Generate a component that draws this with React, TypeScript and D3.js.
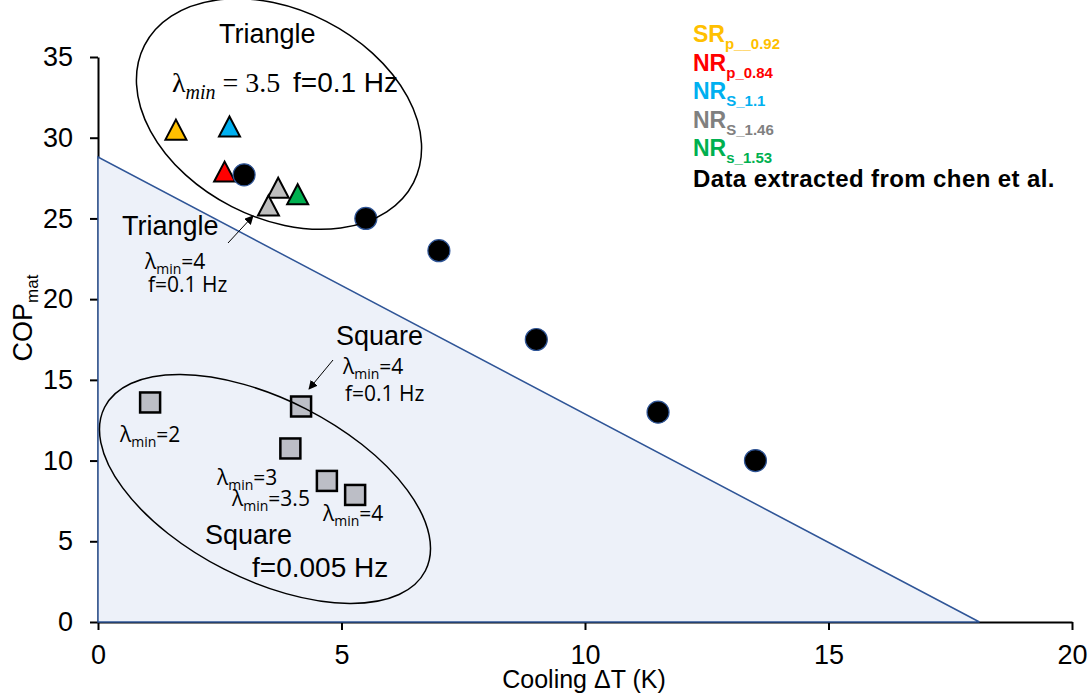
import React, { useEffect, useRef } from "react";
import * as d3 from "d3";

// chen et al. (black dots)
const chenX = [3, 5.5, 7, 9, 11.5, 13.5];
const chenY = [27.7, 25, 23, 17.5, 13, 10];

// triangle waveform, lambda_min = 3.5, f = 0.1 Hz
const triNames = ["SR p__0.92", "NR p_0.84", "NR S_1.1", "NR S_1.46", "NR S_1.46b", "NR s_1.53"];
const triX = [1.6, 2.6, 2.7, 3.7, 3.5, 4.1];
const triY = [30.5, 27.9, 30.7, 26.9, 25.8, 26.5];
const triColors = ["#FFC000", "#FF0000", "#00B0F0", "#BFBFBF", "#BFBFBF", "#00B050"];

// square waveform
const sqX = [1.07, 4.17, 3.95, 4.7, 5.28];
const sqY = [13.6, 13.35, 10.75, 8.74, 7.87];

// shaded limit
const limitX = [0, 0, 18.1];
const limitY = [0, 28.8, 0];

const xTicks = [0, 5, 10, 15, 20];
const yTicks = [0, 5, 10, 15, 20, 25, 30, 35];

const legendMain = ["SR", "NR", "NR", "NR", "NR"];
const legendSub = ["p__0.92", "p_0.84", "S_1.1", "S_1.46", "s_1.53"];
const legendColors = ["#FFC000", "#FF0000", "#00B0F0", "#808080", "#00B050"];

const App = () => {
  const svgRef = useRef<SVGSVGElement>(null);

  useEffect(() => {
    const svg = d3.select(svgRef.current);
    svg.selectAll("*").remove();

    const font = "'Liberation Sans', Arial, sans-serif";
    const small = "'Open Sans', sans-serif";

    const x = d3.scaleLinear().domain([0, 20]).range([98, 1072]);
    const y = d3.scaleLinear().domain([0, 35]).range([622, 57]);

    svg
      .append("defs")
      .append("marker")
      .attr("id", "arrow")
      .attr("viewBox", "0 0 10 10")
      .attr("refX", 9)
      .attr("refY", 5)
      .attr("markerWidth", 9)
      .attr("markerHeight", 9)
      .attr("markerUnits", "userSpaceOnUse")
      .attr("orient", "auto")
      .append("path")
      .attr("d", "M0,0 L10,5 L0,10 z")
      .attr("fill", "#000");

    // axes
    const yAxis = svg
      .append("g")
      .attr("transform", `translate(${x(0)},0)`)
      .call(d3.axisLeft(y).tickValues(yTicks).tickSize(8).tickSizeOuter(0).tickPadding(17));
    const xAxis = svg
      .append("g")
      .attr("transform", `translate(0,${y(0)})`)
      .call(d3.axisBottom(x).tickValues(xTicks).tickSize(8).tickSizeOuter(0).tickPadding(15));
    [xAxis, yAxis].forEach((g) => {
      g.selectAll("path, line").attr("stroke", "#000").attr("stroke-width", 2);
      g.selectAll("text").style("font-family", font).style("font-size", "27px").attr("fill", "#000");
    });

    // shaded region
    svg
      .append("path")
      .datum(limitX.map((v, i) => [v, limitY[i]] as [number, number]))
      .attr("d", d3.line<[number, number]>().x((d) => x(d[0])).y((d) => y(d[1])).curve(d3.curveLinearClosed))
      .attr("fill", "#edf1f9")
      .attr("stroke", "#2f5597")
      .attr("stroke-width", 1.5);

    // axis titles
    svg
      .append("text")
      .attr("x", 584)
      .attr("y", 688)
      .attr("text-anchor", "middle")
      .style("font-family", font)
      .style("font-size", "25px")
      .text("Cooling ΔT (K)");

    const yt = svg
      .append("text")
      .attr("transform", "translate(32,318) rotate(-90)")
      .attr("text-anchor", "middle")
      .style("font-family", font)
      .style("font-size", "27px");
    yt.append("tspan").text("COP");
    yt.append("tspan").attr("dy", 6).style("font-size", "17px").text("mat");

    // squares
    const sq = 20;
    svg
      .append("g")
      .selectAll("rect")
      .data(sqX.map((v, i) => ({ x: v, y: sqY[i] })))
      .join("rect")
      .attr("x", (d) => x(d.x) - sq / 2)
      .attr("y", (d) => y(d.y) - sq / 2)
      .attr("width", sq)
      .attr("height", sq)
      .attr("fill", "#bcbec6")
      .attr("stroke", "#000")
      .attr("stroke-width", 2.5);

    // triangles
    const tw = 21;
    const th = 20;
    svg
      .append("g")
      .selectAll("path")
      .data(triX.map((v, i) => ({ x: v, y: triY[i], c: triColors[i], n: triNames[i] })))
      .join("path")
      .attr("d", (d) => {
        const cx = x(d.x);
        const cy = y(d.y);
        return `M${cx},${cy - th / 2} L${cx + tw / 2},${cy + th / 2} L${cx - tw / 2},${cy + th / 2} Z`;
      })
      .attr("fill", (d) => d.c)
      .attr("stroke", "#000")
      .attr("stroke-width", 2)
      .attr("stroke-linejoin", "miter");

    // chen et al. points
    svg
      .append("g")
      .selectAll("circle")
      .data(chenX.map((v, i) => ({ x: v, y: chenY[i] })))
      .join("circle")
      .attr("cx", (d) => x(d.x))
      .attr("cy", (d) => y(d.y))
      .attr("r", 11)
      .attr("fill", "#000")
      .attr("stroke", "#2f5597")
      .attr("stroke-width", 1.2);

    // ellipses
    svg
      .append("ellipse")
      .attr("transform", "translate(279,114) rotate(27)")
      .attr("rx", 151)
      .attr("ry", 104)
      .attr("fill", "none")
      .attr("stroke", "#000")
      .attr("stroke-width", 1.5);
    svg
      .append("ellipse")
      .attr("transform", "translate(265,489) rotate(27)")
      .attr("rx", 180)
      .attr("ry", 90)
      .attr("fill", "none")
      .attr("stroke", "#000")
      .attr("stroke-width", 1.5);

    // arrows
    const arrow = (x1: number, y1: number, x2: number, y2: number) =>
      svg
        .append("line")
        .attr("x1", x1)
        .attr("y1", y1)
        .attr("x2", x2)
        .attr("y2", y2)
        .attr("stroke", "#000")
        .attr("stroke-width", 1)
        .attr("marker-end", "url(#arrow)");
    arrow(228, 243, 253, 216);
    arrow(333, 360, 309, 389);

    // plain labels
    const label = (tx: number, ty: number, s: string, size: number, family = font) =>
      svg
        .append("text")
        .attr("x", tx)
        .attr("y", ty)
        .style("font-family", family)
        .style("font-size", `${size}px`)
        .text(s);

    // lambda_min=... labels
    const lam = (tx: number, ty: number, val: string) => {
      const t = svg
        .append("text")
        .attr("x", tx)
        .attr("y", ty)
        .style("font-family", small)
        .style("font-size", "21px");
      t.append("tspan").text("λ");
      t.append("tspan").attr("dy", 5).style("font-size", "14px").text("min");
      t.append("tspan").attr("dy", -5).text(`=${val}`);
    };

    label(219, 43, "Triangle", 27);
    const m = svg
      .append("text")
      .attr("x", 172)
      .attr("y", 92)
      .style("font-family", "'Liberation Serif', serif")
      .style("font-size", "28px");
    m.append("tspan").text("λ");
    m.append("tspan").attr("dy", 7).style("font-size", "20px").style("font-style", "italic").text("min");
    m.append("tspan").attr("dy", -7).text(" = 3.5");
    label(293, 92, "f=0.1 Hz", 28);

    label(122, 235, "Triangle", 27);
    lam(145, 269, "4");
    label(148, 292, "f=0.1 Hz", 21, small);

    label(336, 345, "Square", 27);
    lam(343, 374, "4");
    label(345, 401, "f=0.1 Hz", 21, small);

    lam(120, 442, "2");
    lam(217, 485, "3");
    lam(232, 506, "3.5");
    lam(323, 521, "4");
    label(205, 544, "Square", 27);
    label(252, 577, "f=0.005 Hz", 28);

    // legend
    legendMain.forEach((s, i) => {
      const t = svg
        .append("text")
        .attr("x", 693)
        .attr("y", 42 + i * 28.6)
        .attr("fill", legendColors[i])
        .style("font-family", font)
        .style("font-weight", "bold")
        .style("font-size", "23px");
      t.append("tspan").text(s);
      t.append("tspan").attr("dy", 7).style("font-size", "15px").text(legendSub[i]);
    });
    svg
      .append("text")
      .attr("x", 693)
      .attr("y", 187)
      .style("font-family", font)
      .style("font-weight", "bold")
      .style("font-size", "24px")
      .style("letter-spacing", "0.4px")
      .text("Data extracted from chen et al.");
  }, []);

  return (
    <svg
      ref={svgRef}
      width={1092}
      height={696}
      style={{ position: "absolute", left: 0, top: 0, background: "#fff" }}
    ></svg>
  );
};

export default App;
